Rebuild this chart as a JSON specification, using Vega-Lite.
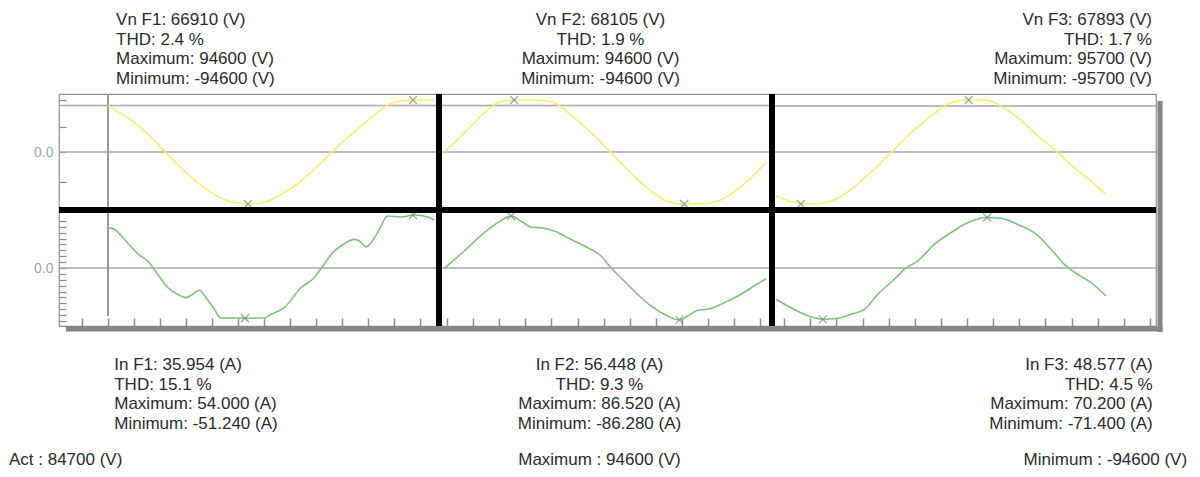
{
  "$schema": "https://vega.github.io/schema/vega-lite/v6.json",
  "background": "white",
  "autosize": {"type": "pad"},
  "padding": {"left": 8, "top": 10, "right": 6, "bottom": 6},
  "config": {
    "view": {"stroke": "#8f8f8f", "strokeWidth": 1.2},
    "font": "Liberation Sans"
  },
  "datasets": {
    "wave": [
      {"ph":"F1","q":"V","s":0,"v":84700},{"ph":"F1","q":"V","s":3.8,"v":73500},{"ph":"F1","q":"V","s":7.6,"v":62400},{"ph":"F1","q":"V","s":10.8,"v":51000},{"ph":"F1","q":"V","s":14.0,"v":38200},{"ph":"F1","q":"V","s":17.9,"v":20500},{"ph":"F1","q":"V","s":21.7,"v":1800},{"ph":"F1","q":"V","s":25.5,"v":-16700},{"ph":"F1","q":"V","s":29.3,"v":-34600},{"ph":"F1","q":"V","s":33.1,"v":-50200},{"ph":"F1","q":"V","s":37.0,"v":-64900},{"ph":"F1","q":"V","s":43.5,"v":-84000},{"ph":"F1","q":"V","s":48.6,"v":-92000},{"ph":"F1","q":"V","s":54.0,"v":-94600},{"ph":"F1","q":"V","s":60.1,"v":-91500},{"ph":"F1","q":"V","s":64.0,"v":-84000},{"ph":"F1","q":"V","s":67.8,"v":-74000},{"ph":"F1","q":"V","s":71.0,"v":-64000},{"ph":"F1","q":"V","s":74.2,"v":-52800},{"ph":"F1","q":"V","s":77.5,"v":-39200},{"ph":"F1","q":"V","s":80.7,"v":-25500},{"ph":"F1","q":"V","s":85.8,"v":-1300},{"ph":"F1","q":"V","s":89.0,"v":12700},{"ph":"F1","q":"V","s":92.2,"v":26000},{"ph":"F1","q":"V","s":96.0,"v":41500},{"ph":"F1","q":"V","s":99.9,"v":57500},{"ph":"F1","q":"V","s":103.8,"v":72500},{"ph":"F1","q":"V","s":107.6,"v":85500},{"ph":"F1","q":"V","s":112.7,"v":92800},{"ph":"F1","q":"V","s":117.8,"v":94600},{"ph":"F1","q":"V","s":121.6,"v":94600},{"ph":"F1","q":"V","s":125.5,"v":93800},
      {"ph":"F2","q":"V","s":0,"v":0},{"ph":"F2","q":"V","s":5.3,"v":23100},{"ph":"F2","q":"V","s":10.4,"v":47300},{"ph":"F2","q":"V","s":15.5,"v":71500},{"ph":"F2","q":"V","s":20.7,"v":89700},{"ph":"F2","q":"V","s":24.0,"v":93800},{"ph":"F2","q":"V","s":27.0,"v":94600},{"ph":"F2","q":"V","s":37.3,"v":94200},{"ph":"F2","q":"V","s":42.4,"v":89700},{"ph":"F2","q":"V","s":45.5,"v":80500},{"ph":"F2","q":"V","s":48.8,"v":67500},{"ph":"F2","q":"V","s":52.6,"v":52000},{"ph":"F2","q":"V","s":56.5,"v":35500},{"ph":"F2","q":"V","s":60.4,"v":17500},{"ph":"F2","q":"V","s":64.2,"v":-1300},{"ph":"F2","q":"V","s":68.0,"v":-19500},{"ph":"F2","q":"V","s":71.9,"v":-37700},{"ph":"F2","q":"V","s":75.7,"v":-55500},{"ph":"F2","q":"V","s":79.6,"v":-70900},{"ph":"F2","q":"V","s":83.5,"v":-84000},{"ph":"F2","q":"V","s":87.3,"v":-92200},{"ph":"F2","q":"V","s":92.4,"v":-94600},{"ph":"F2","q":"V","s":97.5,"v":-94400},{"ph":"F2","q":"V","s":102.7,"v":-93000},{"ph":"F2","q":"V","s":106.5,"v":-87000},{"ph":"F2","q":"V","s":110.4,"v":-77000},{"ph":"F2","q":"V","s":114.2,"v":-63000},{"ph":"F2","q":"V","s":118.1,"v":-46700},{"ph":"F2","q":"V","s":121.0,"v":-33000},{"ph":"F2","q":"V","s":123.8,"v":-19500},
      {"ph":"F3","q":"V","s":0,"v":-81000},{"ph":"F3","q":"V","s":4.5,"v":-89200},{"ph":"F3","q":"V","s":9.6,"v":-94800},{"ph":"F3","q":"V","s":14.1,"v":-95700},{"ph":"F3","q":"V","s":18.6,"v":-93800},{"ph":"F3","q":"V","s":22.5,"v":-87500},{"ph":"F3","q":"V","s":26.3,"v":-77800},{"ph":"F3","q":"V","s":29.5,"v":-66500},{"ph":"F3","q":"V","s":32.7,"v":-53400},{"ph":"F3","q":"V","s":35.9,"v":-39500},{"ph":"F3","q":"V","s":39.1,"v":-25800},{"ph":"F3","q":"V","s":41.6,"v":-13000},{"ph":"F3","q":"V","s":44.2,"v":-1300},{"ph":"F3","q":"V","s":46.8,"v":11200},{"ph":"F3","q":"V","s":49.3,"v":23400},{"ph":"F3","q":"V","s":52.5,"v":37800},{"ph":"F3","q":"V","s":55.8,"v":51000},{"ph":"F3","q":"V","s":59.0,"v":64000},{"ph":"F3","q":"V","s":62.2,"v":75400},{"ph":"F3","q":"V","s":64.8,"v":84000},{"ph":"F3","q":"V","s":67.3,"v":90700},{"ph":"F3","q":"V","s":70.5,"v":94300},{"ph":"F3","q":"V","s":73.7,"v":95700},{"ph":"F3","q":"V","s":77.5,"v":95700},{"ph":"F3","q":"V","s":81.4,"v":95100},{"ph":"F3","q":"V","s":84.0,"v":91000},{"ph":"F3","q":"V","s":86.5,"v":84600},{"ph":"F3","q":"V","s":89.7,"v":75000},{"ph":"F3","q":"V","s":93.0,"v":63100},{"ph":"F3","q":"V","s":96.1,"v":50000},{"ph":"F3","q":"V","s":99.3,"v":35500},{"ph":"F3","q":"V","s":102.6,"v":22000},{"ph":"F3","q":"V","s":105.8,"v":10000},{"ph":"F3","q":"V","s":108.3,"v":-1300},{"ph":"F3","q":"V","s":111.5,"v":-15500},{"ph":"F3","q":"V","s":114.7,"v":-28900},{"ph":"F3","q":"V","s":118.0,"v":-41500},{"ph":"F3","q":"V","s":121.2,"v":-53400},{"ph":"F3","q":"V","s":124.0,"v":-65500},{"ph":"F3","q":"V","s":126.9,"v":-77800},
      {"ph":"F1","q":"I","s":0,"v":41.1},{"ph":"F1","q":"I","s":2.4,"v":39.4},{"ph":"F1","q":"I","s":6.9,"v":27.5},{"ph":"F1","q":"I","s":11.4,"v":14.6},{"ph":"F1","q":"I","s":15.9,"v":5.4},{"ph":"F1","q":"I","s":19.1,"v":-6.4},{"ph":"F1","q":"I","s":23.0,"v":-20.0},{"ph":"F1","q":"I","s":26.8,"v":-26.8},{"ph":"F1","q":"I","s":30.0,"v":-30.2},{"ph":"F1","q":"I","s":32.6,"v":-26.8},{"ph":"F1","q":"I","s":35.1,"v":-22.7},{"ph":"F1","q":"I","s":37.7,"v":-30.2},{"ph":"F1","q":"I","s":40.9,"v":-42.1},{"ph":"F1","q":"I","s":43.5,"v":-51.2},{"ph":"F1","q":"I","s":48.6,"v":-51.0},{"ph":"F1","q":"I","s":53.1,"v":-51.2},{"ph":"F1","q":"I","s":60.1,"v":-51.0},{"ph":"F1","q":"I","s":62.7,"v":-47.2},{"ph":"F1","q":"I","s":67.8,"v":-40.4},{"ph":"F1","q":"I","s":74.2,"v":-20.1},{"ph":"F1","q":"I","s":79.3,"v":-9.9},{"ph":"F1","q":"I","s":81.9,"v":-0.7},{"ph":"F1","q":"I","s":87.0,"v":17.3},{"ph":"F1","q":"I","s":89.6,"v":22.4},{"ph":"F1","q":"I","s":94.8,"v":29.2},{"ph":"F1","q":"I","s":96.7,"v":27.5},{"ph":"F1","q":"I","s":99.2,"v":21.4},{"ph":"F1","q":"I","s":103.7,"v":36.0},{"ph":"F1","q":"I","s":107.6,"v":53.0},{"ph":"F1","q":"I","s":112.7,"v":52.0},{"ph":"F1","q":"I","s":117.8,"v":54.0},{"ph":"F1","q":"I","s":123.0,"v":52.0},{"ph":"F1","q":"I","s":125.5,"v":48.6},
      {"ph":"F2","q":"I","s":0,"v":-1.0},{"ph":"F2","q":"I","s":7.8,"v":28.3},{"ph":"F2","q":"I","s":15.5,"v":58.7},{"ph":"F2","q":"I","s":20.7,"v":75.4},{"ph":"F2","q":"I","s":25.8,"v":86.5},{"ph":"F2","q":"I","s":29.6,"v":78.2},{"ph":"F2","q":"I","s":33.5,"v":68.2},{"ph":"F2","q":"I","s":37.3,"v":67.1},{"ph":"F2","q":"I","s":42.4,"v":61.6},{"ph":"F2","q":"I","s":48.8,"v":47.8},{"ph":"F2","q":"I","s":55.3,"v":33.8},{"ph":"F2","q":"I","s":60.4,"v":20.0},{"ph":"F2","q":"I","s":64.2,"v":0.5},{"ph":"F2","q":"I","s":69.3,"v":-21.6},{"ph":"F2","q":"I","s":74.5,"v":-43.8},{"ph":"F2","q":"I","s":79.6,"v":-63.2},{"ph":"F2","q":"I","s":84.7,"v":-77.0},{"ph":"F2","q":"I","s":90.5,"v":-86.3},{"ph":"F2","q":"I","s":93.7,"v":-79.9},{"ph":"F2","q":"I","s":97.6,"v":-70.4},{"ph":"F2","q":"I","s":101.4,"v":-68.7},{"ph":"F2","q":"I","s":106.5,"v":-60.4},{"ph":"F2","q":"I","s":113.0,"v":-46.6},{"ph":"F2","q":"I","s":119.3,"v":-30.0},{"ph":"F2","q":"I","s":123.8,"v":-17.8},
      {"ph":"F3","q":"I","s":0,"v":-43.5},{"ph":"F3","q":"I","s":4.5,"v":-52.8},{"ph":"F3","q":"I","s":9.6,"v":-62.1},{"ph":"F3","q":"I","s":14.7,"v":-69.1},{"ph":"F3","q":"I","s":18.0,"v":-71.4},{"ph":"F3","q":"I","s":23.7,"v":-69.9},{"ph":"F3","q":"I","s":28.8,"v":-64.4},{"ph":"F3","q":"I","s":34.0,"v":-57.4},{"ph":"F3","q":"I","s":39.1,"v":-36.6},{"ph":"F3","q":"I","s":45.5,"v":-15.7},{"ph":"F3","q":"I","s":49.3,"v":-1.8},{"ph":"F3","q":"I","s":54.5,"v":9.7},{"ph":"F3","q":"I","s":60.9,"v":32.9},{"ph":"F3","q":"I","s":67.3,"v":49.1},{"ph":"F3","q":"I","s":73.7,"v":63.0},{"ph":"F3","q":"I","s":81.2,"v":70.2},{"ph":"F3","q":"I","s":86.5,"v":69.1},{"ph":"F3","q":"I","s":94.2,"v":58.4},{"ph":"F3","q":"I","s":99.3,"v":49.1},{"ph":"F3","q":"I","s":105.8,"v":26.0},{"ph":"F3","q":"I","s":110.9,"v":5.1},{"ph":"F3","q":"I","s":116.0,"v":-8.8},{"ph":"F3","q":"I","s":121.2,"v":-20.4},{"ph":"F3","q":"I","s":126.9,"v":-38.9}
    ],
    "peaks": [
      {"ph":"F1","q":"V","s":117.3,"v":94600},{"ph":"F1","q":"V","s":53.8,"v":-94600},
      {"ph":"F1","q":"I","s":117.3,"v":54.0},{"ph":"F1","q":"I","s":52.7,"v":-51.24},
      {"ph":"F2","q":"V","s":27.0,"v":94600},{"ph":"F2","q":"V","s":92.4,"v":-94600},
      {"ph":"F2","q":"I","s":25.8,"v":86.52},{"ph":"F2","q":"I","s":90.5,"v":-86.28},
      {"ph":"F3","q":"V","s":9.6,"v":-95700},{"ph":"F3","q":"V","s":74.1,"v":95700},
      {"ph":"F3","q":"I","s":18.0,"v":-71.4},{"ph":"F3","q":"I","s":81.2,"v":70.2}
    ]
  },
  "columns": 3,
  "spacing": 0,
  "bounds": "flush",
  "concat": [
    {
      "width": 380, "height": 116,
      "layer": [
        {"data": {"values": [{}]}, "mark": {"type": "rule", "color": "#a9a9a9", "strokeWidth": 1.5}, "encoding": {"y": {"datum": 0, "type": "quantitative", "scale": {"domain": [-105500, 105500], "nice": false, "zero": false}, "axis": {"title": null, "domain": false, "grid": false, "values": [94600, 45000, 0, -55000], "ticks": true, "tickSize": -7, "tickColor": "#8a8a8a", "tickWidth": 1.2, "labelExpr": "datum.value == 0 ? '0.0' : ''", "labelColor": "#a0a6ae", "labelFontSize": 14, "labelPadding": 13, "labelOverlap": false, "labelBaseline": "middle"}}}},
        {"data": {"values": [{}]}, "mark": {"type": "rule", "color": "#a9a9a9", "strokeWidth": 1.5}, "encoding": {"y": {"datum": 84700, "type": "quantitative", "scale": {"domain": [-105500, 105500], "nice": false, "zero": false}, "axis": {"title": null, "domain": false, "grid": false, "values": [94600, 45000, 0, -55000], "ticks": true, "tickSize": -7, "tickColor": "#8a8a8a", "tickWidth": 1.2, "labelExpr": "datum.value == 0 ? '0.0' : ''", "labelColor": "#a0a6ae", "labelFontSize": 14, "labelPadding": 13, "labelOverlap": false, "labelBaseline": "middle"}}}},
        {"data": {"values": [{}]}, "mark": {"type": "rule", "color": "#9a9a9a", "strokeWidth": 2}, "encoding": {"x": {"datum": 0, "type": "quantitative", "axis": null, "scale": {"domain": [-18.846, 127.31], "nice": false, "zero": false}}}},
        {"data": {"name": "wave"}, "transform": [{"filter": "datum.ph == 'F1' && datum.q == 'V'"}], "mark": {"type": "line", "color": "#f3ef73", "strokeWidth": 1.6, "interpolate": "monotone"},
         "encoding": {"x": {"field": "s", "type": "quantitative", "axis": null, "scale": {"domain": [-18.846, 127.31], "nice": false, "zero": false}},
                      "y": {"field": "v", "type": "quantitative", "scale": {"domain": [-105500, 105500], "nice": false, "zero": false}, "axis": {"title": null, "domain": false, "grid": false, "values": [94600, 45000, 0, -55000], "ticks": true, "tickSize": -7, "tickColor": "#8a8a8a", "tickWidth": 1.2, "labelExpr": "datum.value == 0 ? '0.0' : ''", "labelColor": "#a0a6ae", "labelFontSize": 14, "labelPadding": 13, "labelOverlap": false, "labelBaseline": "middle"}}}},
        {"data": {"name": "peaks"}, "transform": [{"filter": "datum.ph == 'F1' && datum.q == 'V'"}], "mark": {"type": "point", "shape": "M-1,-1L1,1M1,-1L-1,1", "size": 64, "filled": false, "color": "#7d7d7d", "strokeWidth": 1.2},
         "encoding": {"x": {"field": "s", "type": "quantitative", "axis": null, "scale": {"domain": [-18.846, 127.31], "nice": false, "zero": false}}, "y": {"field": "v", "type": "quantitative", "scale": {"domain": [-105500, 105500], "nice": false, "zero": false}, "axis": {"title": null, "domain": false, "grid": false, "values": [94600, 45000, 0, -55000], "ticks": true, "tickSize": -7, "tickColor": "#8a8a8a", "tickWidth": 1.2, "labelExpr": "datum.value == 0 ? '0.0' : ''", "labelColor": "#a0a6ae", "labelFontSize": 14, "labelPadding": 13, "labelOverlap": false, "labelBaseline": "middle"}}}},
        {"data": {"values": [{}]}, "mark": {"type": "rule", "color": "black", "strokeWidth": 6}, "encoding": {"y": {"datum": -105500, "type": "quantitative", "scale": {"domain": [-105500, 105500], "nice": false, "zero": false}, "axis": {"title": null, "domain": false, "grid": false, "values": [94600, 45000, 0, -55000], "ticks": true, "tickSize": -7, "tickColor": "#8a8a8a", "tickWidth": 1.2, "labelExpr": "datum.value == 0 ? '0.0' : ''", "labelColor": "#a0a6ae", "labelFontSize": 14, "labelPadding": 13, "labelOverlap": false, "labelBaseline": "middle"}}}},
        {"data": {"values": [{}]}, "mark": {"type": "rule", "color": "black", "strokeWidth": 6}, "encoding": {"x": {"datum": 127.31, "type": "quantitative", "axis": null, "scale": {"domain": [-18.846, 127.31], "nice": false, "zero": false}}}},
        {"data": {"values": [{"t": "Vn F1: 66910 (V)\nTHD: 2.4 %\nMaximum: 94600 (V)\nMinimum: -94600 (V)"}]}, "mark": {"type": "text", "lineBreak": "\n", "align": "left", "baseline": "alphabetic", "fontSize": 17, "lineHeight": 19.5, "color": "#2b2b2b", "font": "Liberation Sans"},
         "encoding": {"text": {"field": "t", "type": "nominal"}, "x": {"datum": 3.1, "type": "quantitative", "axis": null, "scale": {"domain": [-18.846, 127.31], "nice": false, "zero": false}}, "y": {"datum": 231000, "type": "quantitative", "scale": {"domain": [-105500, 105500], "nice": false, "zero": false}, "axis": {"title": null, "domain": false, "grid": false, "values": [94600, 45000, 0, -55000], "ticks": true, "tickSize": -7, "tickColor": "#8a8a8a", "tickWidth": 1.2, "labelExpr": "datum.value == 0 ? '0.0' : ''", "labelColor": "#a0a6ae", "labelFontSize": 14, "labelPadding": 13, "labelOverlap": false, "labelBaseline": "middle"}}}}
      ]
    },
    {
      "width": 333, "height": 116,
      "layer": [
        {"data": {"values": [{}]}, "mark": {"type": "rule", "color": "#a9a9a9", "strokeWidth": 1.5}, "encoding": {"y": {"datum": 0, "type": "quantitative", "axis": null, "scale": {"domain": [-105500, 105500], "nice": false, "zero": false}}}},
        {"data": {"values": [{}]}, "mark": {"type": "rule", "color": "#a9a9a9", "strokeWidth": 1.5}, "encoding": {"y": {"datum": 84700, "type": "quantitative", "axis": null, "scale": {"domain": [-105500, 105500], "nice": false, "zero": false}}}},
        {"data": {"name": "wave"}, "transform": [{"filter": "datum.ph == 'F2' && datum.q == 'V'"}], "mark": {"type": "line", "color": "#f3ef73", "strokeWidth": 1.6, "interpolate": "monotone"},
         "encoding": {"x": {"field": "s", "type": "quantitative", "axis": null, "scale": {"domain": [-1.923, 126.154], "nice": false, "zero": false}},
                      "y": {"field": "v", "type": "quantitative", "axis": null, "scale": {"domain": [-105500, 105500], "nice": false, "zero": false}}}},
        {"data": {"name": "peaks"}, "transform": [{"filter": "datum.ph == 'F2' && datum.q == 'V'"}], "mark": {"type": "point", "shape": "M-1,-1L1,1M1,-1L-1,1", "size": 64, "filled": false, "color": "#7d7d7d", "strokeWidth": 1.2},
         "encoding": {"x": {"field": "s", "type": "quantitative", "axis": null, "scale": {"domain": [-1.923, 126.154], "nice": false, "zero": false}}, "y": {"field": "v", "type": "quantitative", "axis": null, "scale": {"domain": [-105500, 105500], "nice": false, "zero": false}}}},
        {"data": {"values": [{}]}, "mark": {"type": "rule", "color": "black", "strokeWidth": 6}, "encoding": {"y": {"datum": -105500, "type": "quantitative", "axis": null, "scale": {"domain": [-105500, 105500], "nice": false, "zero": false}}}},
        {"data": {"values": [{}]}, "mark": {"type": "rule", "color": "black", "strokeWidth": 6}, "encoding": {"x": {"datum": -1.923, "type": "quantitative", "axis": null, "scale": {"domain": [-1.923, 126.154], "nice": false, "zero": false}}}},
        {"data": {"values": [{}]}, "mark": {"type": "rule", "color": "black", "strokeWidth": 6}, "encoding": {"x": {"datum": 126.154, "type": "quantitative", "axis": null, "scale": {"domain": [-1.923, 126.154], "nice": false, "zero": false}}}},
        {"data": {"values": [{"t": "Vn F2: 68105 (V)\nTHD: 1.9 %\nMaximum: 94600 (V)\nMinimum: -94600 (V)"}]}, "mark": {"type": "text", "lineBreak": "\n", "align": "center", "baseline": "alphabetic", "fontSize": 17, "lineHeight": 19.5, "color": "#2b2b2b", "font": "Liberation Sans"},
         "encoding": {"text": {"field": "t", "type": "nominal"}, "x": {"datum": 60.2, "type": "quantitative", "axis": null, "scale": {"domain": [-1.923, 126.154], "nice": false, "zero": false}}, "y": {"datum": 231000, "type": "quantitative", "axis": null, "scale": {"domain": [-105500, 105500], "nice": false, "zero": false}}}}
      ]
    },
    {
      "width": 384, "height": 116,
      "layer": [
        {"data": {"values": [{}]}, "mark": {"type": "rule", "color": "#a9a9a9", "strokeWidth": 1.5}, "encoding": {"y": {"datum": 0, "type": "quantitative", "axis": null, "scale": {"domain": [-106700, 106700], "nice": false, "zero": false}}}},
        {"data": {"values": [{}]}, "mark": {"type": "rule", "color": "#a9a9a9", "strokeWidth": 1.5}, "encoding": {"y": {"datum": 84700, "type": "quantitative", "axis": null, "scale": {"domain": [-106700, 106700], "nice": false, "zero": false}}}},
        {"data": {"name": "wave"}, "transform": [{"filter": "datum.ph == 'F3' && datum.q == 'V'"}], "mark": {"type": "line", "color": "#f3ef73", "strokeWidth": 1.6, "interpolate": "monotone"},
         "encoding": {"x": {"field": "s", "type": "quantitative", "axis": null, "scale": {"domain": [-1.538, 146.154], "nice": false, "zero": false}},
                      "y": {"field": "v", "type": "quantitative", "axis": null, "scale": {"domain": [-106700, 106700], "nice": false, "zero": false}}}},
        {"data": {"name": "peaks"}, "transform": [{"filter": "datum.ph == 'F3' && datum.q == 'V'"}], "mark": {"type": "point", "shape": "M-1,-1L1,1M1,-1L-1,1", "size": 64, "filled": false, "color": "#7d7d7d", "strokeWidth": 1.2},
         "encoding": {"x": {"field": "s", "type": "quantitative", "axis": null, "scale": {"domain": [-1.538, 146.154], "nice": false, "zero": false}}, "y": {"field": "v", "type": "quantitative", "axis": null, "scale": {"domain": [-106700, 106700], "nice": false, "zero": false}}}},
        {"data": {"values": [{}]}, "mark": {"type": "rule", "color": "black", "strokeWidth": 6}, "encoding": {"y": {"datum": -106700, "type": "quantitative", "axis": null, "scale": {"domain": [-106700, 106700], "nice": false, "zero": false}}}},
        {"data": {"values": [{}]}, "mark": {"type": "rule", "color": "black", "strokeWidth": 6}, "encoding": {"x": {"datum": -1.538, "type": "quantitative", "axis": null, "scale": {"domain": [-1.538, 146.154], "nice": false, "zero": false}}}},
        {"data": {"values": [{}]}, "mark": {"type": "rule", "color": "#858585", "strokeWidth": 5}, "encoding": {"x": {"datum": 147.7, "type": "quantitative", "axis": null, "scale": {"domain": [-1.538, 146.154], "nice": false, "zero": false}}, "y": {"datum": 93800, "type": "quantitative", "axis": null, "scale": {"domain": [-106700, 106700], "nice": false, "zero": false}}, "y2": {"datum": -106700}}},
        {"data": {"values": [{"t": "Vn F3: 67893 (V)\nTHD: 1.7 %\nMaximum: 95700 (V)\nMinimum: -95700 (V)"}]}, "mark": {"type": "text", "lineBreak": "\n", "align": "right", "baseline": "alphabetic", "fontSize": 17, "lineHeight": 19.5, "color": "#2b2b2b", "font": "Liberation Sans"},
         "encoding": {"text": {"field": "t", "type": "nominal"}, "x": {"datum": 144.6, "type": "quantitative", "axis": null, "scale": {"domain": [-1.538, 146.154], "nice": false, "zero": false}}, "y": {"datum": 233600, "type": "quantitative", "axis": null, "scale": {"domain": [-106700, 106700], "nice": false, "zero": false}}}}
      ]
    },
    {
      "width": 380, "height": 116,
      "layer": [
        {"data": {"values": [{}]}, "mark": {"type": "rule", "color": "#a9a9a9", "strokeWidth": 1.5}, "encoding": {"y": {"datum": 0, "type": "quantitative", "scale": {"domain": [-59.1, 59.1], "nice": false, "zero": false}, "axis": {"title": null, "domain": false, "grid": false, "values": [-54, -48, -42, -36, -30, -24, -18, -12, -6, 0, 6, 12, 18, 24, 30, 36, 42, 48], "ticks": true, "tickSize": -7, "tickColor": "#8a8a8a", "tickWidth": 1.2, "labelExpr": "datum.value == 0 ? '0.0' : ''", "labelColor": "#a0a6ae", "labelFontSize": 14, "labelPadding": 13, "labelOverlap": false, "labelBaseline": "middle"}}}},
        {"data": {"values": [{}]}, "mark": {"type": "rule", "color": "#9a9a9a", "strokeWidth": 2}, "encoding": {"x": {"datum": 0, "type": "quantitative", "scale": {"domain": [-18.846, 127.31], "nice": false, "zero": false}, "axis": {"title": null, "domain": false, "grid": false, "labels": false, "values": [-10, 0, 10, 20, 30, 40, 50, 60, 70, 80, 90, 100, 110, 120], "ticks": true, "tickSize": -8, "tickColor": "#8a8a8a", "tickWidth": 1.5}}, "y": {"datum": 59.1, "type": "quantitative", "scale": {"domain": [-59.1, 59.1], "nice": false, "zero": false}, "axis": {"title": null, "domain": false, "grid": false, "values": [-54, -48, -42, -36, -30, -24, -18, -12, -6, 0, 6, 12, 18, 24, 30, 36, 42, 48], "ticks": true, "tickSize": -7, "tickColor": "#8a8a8a", "tickWidth": 1.2, "labelExpr": "datum.value == 0 ? '0.0' : ''", "labelColor": "#a0a6ae", "labelFontSize": 14, "labelPadding": 13, "labelOverlap": false, "labelBaseline": "middle"}}, "y2": {"datum": -48.9}}},
        {"data": {"name": "wave"}, "transform": [{"filter": "datum.ph == 'F1' && datum.q == 'I'"}], "mark": {"type": "line", "color": "#7fc27f", "strokeWidth": 1.6, "interpolate": "monotone"},
         "encoding": {"x": {"field": "s", "type": "quantitative", "scale": {"domain": [-18.846, 127.31], "nice": false, "zero": false}, "axis": {"title": null, "domain": false, "grid": false, "labels": false, "values": [-10, 0, 10, 20, 30, 40, 50, 60, 70, 80, 90, 100, 110, 120], "ticks": true, "tickSize": -8, "tickColor": "#8a8a8a", "tickWidth": 1.5}},
                      "y": {"field": "v", "type": "quantitative", "scale": {"domain": [-59.1, 59.1], "nice": false, "zero": false}, "axis": {"title": null, "domain": false, "grid": false, "values": [-54, -48, -42, -36, -30, -24, -18, -12, -6, 0, 6, 12, 18, 24, 30, 36, 42, 48], "ticks": true, "tickSize": -7, "tickColor": "#8a8a8a", "tickWidth": 1.2, "labelExpr": "datum.value == 0 ? '0.0' : ''", "labelColor": "#a0a6ae", "labelFontSize": 14, "labelPadding": 13, "labelOverlap": false, "labelBaseline": "middle"}}}},
        {"data": {"name": "peaks"}, "transform": [{"filter": "datum.ph == 'F1' && datum.q == 'I'"}], "mark": {"type": "point", "shape": "M-1,-1L1,1M1,-1L-1,1", "size": 64, "filled": false, "color": "#7d7d7d", "strokeWidth": 1.2},
         "encoding": {"x": {"field": "s", "type": "quantitative", "scale": {"domain": [-18.846, 127.31], "nice": false, "zero": false}, "axis": {"title": null, "domain": false, "grid": false, "labels": false, "values": [-10, 0, 10, 20, 30, 40, 50, 60, 70, 80, 90, 100, 110, 120], "ticks": true, "tickSize": -8, "tickColor": "#8a8a8a", "tickWidth": 1.5}}, "y": {"field": "v", "type": "quantitative", "scale": {"domain": [-59.1, 59.1], "nice": false, "zero": false}, "axis": {"title": null, "domain": false, "grid": false, "values": [-54, -48, -42, -36, -30, -24, -18, -12, -6, 0, 6, 12, 18, 24, 30, 36, 42, 48], "ticks": true, "tickSize": -7, "tickColor": "#8a8a8a", "tickWidth": 1.2, "labelExpr": "datum.value == 0 ? '0.0' : ''", "labelColor": "#a0a6ae", "labelFontSize": 14, "labelPadding": 13, "labelOverlap": false, "labelBaseline": "middle"}}}},
        {"data": {"values": [{}]}, "mark": {"type": "rule", "color": "black", "strokeWidth": 6}, "encoding": {"y": {"datum": 59.1, "type": "quantitative", "scale": {"domain": [-59.1, 59.1], "nice": false, "zero": false}, "axis": {"title": null, "domain": false, "grid": false, "values": [-54, -48, -42, -36, -30, -24, -18, -12, -6, 0, 6, 12, 18, 24, 30, 36, 42, 48], "ticks": true, "tickSize": -7, "tickColor": "#8a8a8a", "tickWidth": 1.2, "labelExpr": "datum.value == 0 ? '0.0' : ''", "labelColor": "#a0a6ae", "labelFontSize": 14, "labelPadding": 13, "labelOverlap": false, "labelBaseline": "middle"}}}},
        {"data": {"values": [{}]}, "mark": {"type": "rule", "color": "black", "strokeWidth": 6}, "encoding": {"x": {"datum": 127.31, "type": "quantitative", "scale": {"domain": [-18.846, 127.31], "nice": false, "zero": false}, "axis": {"title": null, "domain": false, "grid": false, "labels": false, "values": [-10, 0, 10, 20, 30, 40, 50, 60, 70, 80, 90, 100, 110, 120], "ticks": true, "tickSize": -8, "tickColor": "#8a8a8a", "tickWidth": 1.5}}}},
        {"data": {"values": [{}]}, "mark": {"type": "rule", "color": "#858585", "strokeWidth": 5}, "encoding": {"y": {"datum": -62.2, "type": "quantitative", "scale": {"domain": [-59.1, 59.1], "nice": false, "zero": false}, "axis": {"title": null, "domain": false, "grid": false, "values": [-54, -48, -42, -36, -30, -24, -18, -12, -6, 0, 6, 12, 18, 24, 30, 36, 42, 48], "ticks": true, "tickSize": -7, "tickColor": "#8a8a8a", "tickWidth": 1.2, "labelExpr": "datum.value == 0 ? '0.0' : ''", "labelColor": "#a0a6ae", "labelFontSize": 14, "labelPadding": 13, "labelOverlap": false, "labelBaseline": "middle"}}, "x": {"datum": -16.2, "type": "quantitative", "scale": {"domain": [-18.846, 127.31], "nice": false, "zero": false}, "axis": {"title": null, "domain": false, "grid": false, "labels": false, "values": [-10, 0, 10, 20, 30, 40, 50, 60, 70, 80, 90, 100, 110, 120], "ticks": true, "tickSize": -8, "tickColor": "#8a8a8a", "tickWidth": 1.5}}, "x2": {"datum": 127.31}}},
        {"data": {"values": [{"t": "In F1: 35.954 (A)\nTHD: 15.1 %\nMaximum: 54.000 (A)\nMinimum: -51.240 (A)"}]}, "mark": {"type": "text", "lineBreak": "\n", "align": "left", "baseline": "alphabetic", "fontSize": 17, "lineHeight": 19.6, "color": "#2b2b2b", "font": "Liberation Sans"},
         "encoding": {"text": {"field": "t", "type": "nominal"}, "x": {"datum": 2.4, "type": "quantitative", "scale": {"domain": [-18.846, 127.31], "nice": false, "zero": false}, "axis": {"title": null, "domain": false, "grid": false, "labels": false, "values": [-10, 0, 10, 20, 30, 40, 50, 60, 70, 80, 90, 100, 110, 120], "ticks": true, "tickSize": -8, "tickColor": "#8a8a8a", "tickWidth": 1.5}}, "y": {"datum": -103.9, "type": "quantitative", "scale": {"domain": [-59.1, 59.1], "nice": false, "zero": false}, "axis": {"title": null, "domain": false, "grid": false, "values": [-54, -48, -42, -36, -30, -24, -18, -12, -6, 0, 6, 12, 18, 24, 30, 36, 42, 48], "ticks": true, "tickSize": -7, "tickColor": "#8a8a8a", "tickWidth": 1.2, "labelExpr": "datum.value == 0 ? '0.0' : ''", "labelColor": "#a0a6ae", "labelFontSize": 14, "labelPadding": 13, "labelOverlap": false, "labelBaseline": "middle"}}}},
        {"data": {"values": [{"t": "Act : 84700 (V)"}]}, "mark": {"type": "text", "align": "left", "baseline": "alphabetic", "fontSize": 17, "color": "#2b2b2b", "font": "Liberation Sans"},
         "encoding": {"text": {"field": "t", "type": "nominal"}, "x": {"datum": -38.1, "type": "quantitative", "scale": {"domain": [-18.846, 127.31], "nice": false, "zero": false}, "axis": {"title": null, "domain": false, "grid": false, "labels": false, "values": [-10, 0, 10, 20, 30, 40, 50, 60, 70, 80, 90, 100, 110, 120], "ticks": true, "tickSize": -8, "tickColor": "#8a8a8a", "tickWidth": 1.5}}, "y": {"datum": -200.7, "type": "quantitative", "scale": {"domain": [-59.1, 59.1], "nice": false, "zero": false}, "axis": {"title": null, "domain": false, "grid": false, "values": [-54, -48, -42, -36, -30, -24, -18, -12, -6, 0, 6, 12, 18, 24, 30, 36, 42, 48], "ticks": true, "tickSize": -7, "tickColor": "#8a8a8a", "tickWidth": 1.2, "labelExpr": "datum.value == 0 ? '0.0' : ''", "labelColor": "#a0a6ae", "labelFontSize": 14, "labelPadding": 13, "labelOverlap": false, "labelBaseline": "middle"}}}}
      ]
    },
    {
      "width": 333, "height": 116,
      "layer": [
        {"data": {"values": [{}]}, "mark": {"type": "rule", "color": "#a9a9a9", "strokeWidth": 1.5}, "encoding": {"y": {"datum": 0, "type": "quantitative", "axis": null, "scale": {"domain": [-96.5, 96.5], "nice": false, "zero": false}}}},
        {"data": {"name": "wave"}, "transform": [{"filter": "datum.ph == 'F2' && datum.q == 'I'"}], "mark": {"type": "line", "color": "#7fc27f", "strokeWidth": 1.6, "interpolate": "monotone"},
         "encoding": {"x": {"field": "s", "type": "quantitative", "scale": {"domain": [-1.923, 126.154], "nice": false, "zero": false}, "axis": {"title": null, "domain": false, "grid": false, "labels": false, "values": [1.2, 11.2, 21.2, 31.3, 41.3, 51.4, 61.4, 71.4, 81.5, 91.5, 101.5, 111.6, 121.6], "ticks": true, "tickSize": -8, "tickColor": "#8a8a8a", "tickWidth": 1.5}},
                      "y": {"field": "v", "type": "quantitative", "axis": null, "scale": {"domain": [-96.5, 96.5], "nice": false, "zero": false}}}},
        {"data": {"name": "peaks"}, "transform": [{"filter": "datum.ph == 'F2' && datum.q == 'I'"}], "mark": {"type": "point", "shape": "M-1,-1L1,1M1,-1L-1,1", "size": 64, "filled": false, "color": "#7d7d7d", "strokeWidth": 1.2},
         "encoding": {"x": {"field": "s", "type": "quantitative", "scale": {"domain": [-1.923, 126.154], "nice": false, "zero": false}, "axis": {"title": null, "domain": false, "grid": false, "labels": false, "values": [1.2, 11.2, 21.2, 31.3, 41.3, 51.4, 61.4, 71.4, 81.5, 91.5, 101.5, 111.6, 121.6], "ticks": true, "tickSize": -8, "tickColor": "#8a8a8a", "tickWidth": 1.5}}, "y": {"field": "v", "type": "quantitative", "axis": null, "scale": {"domain": [-96.5, 96.5], "nice": false, "zero": false}}}},
        {"data": {"values": [{}]}, "mark": {"type": "rule", "color": "black", "strokeWidth": 6}, "encoding": {"y": {"datum": 96.5, "type": "quantitative", "axis": null, "scale": {"domain": [-96.5, 96.5], "nice": false, "zero": false}}}},
        {"data": {"values": [{}]}, "mark": {"type": "rule", "color": "black", "strokeWidth": 6}, "encoding": {"x": {"datum": -1.923, "type": "quantitative", "scale": {"domain": [-1.923, 126.154], "nice": false, "zero": false}, "axis": {"title": null, "domain": false, "grid": false, "labels": false, "values": [1.2, 11.2, 21.2, 31.3, 41.3, 51.4, 61.4, 71.4, 81.5, 91.5, 101.5, 111.6, 121.6], "ticks": true, "tickSize": -8, "tickColor": "#8a8a8a", "tickWidth": 1.5}}}},
        {"data": {"values": [{}]}, "mark": {"type": "rule", "color": "black", "strokeWidth": 6}, "encoding": {"x": {"datum": 126.154, "type": "quantitative", "scale": {"domain": [-1.923, 126.154], "nice": false, "zero": false}, "axis": {"title": null, "domain": false, "grid": false, "labels": false, "values": [1.2, 11.2, 21.2, 31.3, 41.3, 51.4, 61.4, 71.4, 81.5, 91.5, 101.5, 111.6, 121.6], "ticks": true, "tickSize": -8, "tickColor": "#8a8a8a", "tickWidth": 1.5}}}},
        {"data": {"values": [{}]}, "mark": {"type": "rule", "color": "#858585", "strokeWidth": 5}, "encoding": {"y": {"datum": -101.5, "type": "quantitative", "axis": null, "scale": {"domain": [-96.5, 96.5], "nice": false, "zero": false}}}},
        {"data": {"values": [{"t": "In F2: 56.448 (A)\nTHD: 9.3 %\nMaximum: 86.520 (A)\nMinimum: -86.280 (A)"}]}, "mark": {"type": "text", "lineBreak": "\n", "align": "center", "baseline": "alphabetic", "fontSize": 17, "lineHeight": 19.6, "color": "#2b2b2b", "font": "Liberation Sans"},
         "encoding": {"text": {"field": "t", "type": "nominal"}, "x": {"datum": 59.8, "type": "quantitative", "scale": {"domain": [-1.923, 126.154], "nice": false, "zero": false}, "axis": {"title": null, "domain": false, "grid": false, "labels": false, "values": [1.2, 11.2, 21.2, 31.3, 41.3, 51.4, 61.4, 71.4, 81.5, 91.5, 101.5, 111.6, 121.6], "ticks": true, "tickSize": -8, "tickColor": "#8a8a8a", "tickWidth": 1.5}}, "y": {"datum": -169.7, "type": "quantitative", "axis": null, "scale": {"domain": [-96.5, 96.5], "nice": false, "zero": false}}}},
        {"data": {"values": [{"t": "Maximum : 94600 (V)"}]}, "mark": {"type": "text", "align": "center", "baseline": "alphabetic", "fontSize": 17, "color": "#2b2b2b", "font": "Liberation Sans"},
         "encoding": {"text": {"field": "t", "type": "nominal"}, "x": {"datum": 59.8, "type": "quantitative", "scale": {"domain": [-1.923, 126.154], "nice": false, "zero": false}, "axis": {"title": null, "domain": false, "grid": false, "labels": false, "values": [1.2, 11.2, 21.2, 31.3, 41.3, 51.4, 61.4, 71.4, 81.5, 91.5, 101.5, 111.6, 121.6], "ticks": true, "tickSize": -8, "tickColor": "#8a8a8a", "tickWidth": 1.5}}, "y": {"datum": -327.8, "type": "quantitative", "axis": null, "scale": {"domain": [-96.5, 96.5], "nice": false, "zero": false}}}}
      ]
    },
    {
      "width": 384, "height": 116,
      "layer": [
        {"data": {"values": [{}]}, "mark": {"type": "rule", "color": "#a9a9a9", "strokeWidth": 1.5}, "encoding": {"y": {"datum": 0, "type": "quantitative", "axis": null, "scale": {"domain": [-80.6, 80.6], "nice": false, "zero": false}}}},
        {"data": {"name": "wave"}, "transform": [{"filter": "datum.ph == 'F3' && datum.q == 'I'"}], "mark": {"type": "line", "color": "#7fc27f", "strokeWidth": 1.6, "interpolate": "monotone"},
         "encoding": {"x": {"field": "s", "type": "quantitative", "scale": {"domain": [-1.538, 146.154], "nice": false, "zero": false}, "axis": {"title": null, "domain": false, "grid": false, "labels": false, "values": [3.1, 13.2, 23.2, 33.3, 43.3, 53.4, 63.4, 73.5, 83.5, 93.6, 103.6, 113.7, 123.7, 133.8, 143.8], "ticks": true, "tickSize": -8, "tickColor": "#8a8a8a", "tickWidth": 1.5}},
                      "y": {"field": "v", "type": "quantitative", "axis": null, "scale": {"domain": [-80.6, 80.6], "nice": false, "zero": false}}}},
        {"data": {"name": "peaks"}, "transform": [{"filter": "datum.ph == 'F3' && datum.q == 'I'"}], "mark": {"type": "point", "shape": "M-1,-1L1,1M1,-1L-1,1", "size": 64, "filled": false, "color": "#7d7d7d", "strokeWidth": 1.2},
         "encoding": {"x": {"field": "s", "type": "quantitative", "scale": {"domain": [-1.538, 146.154], "nice": false, "zero": false}, "axis": {"title": null, "domain": false, "grid": false, "labels": false, "values": [3.1, 13.2, 23.2, 33.3, 43.3, 53.4, 63.4, 73.5, 83.5, 93.6, 103.6, 113.7, 123.7, 133.8, 143.8], "ticks": true, "tickSize": -8, "tickColor": "#8a8a8a", "tickWidth": 1.5}}, "y": {"field": "v", "type": "quantitative", "axis": null, "scale": {"domain": [-80.6, 80.6], "nice": false, "zero": false}}}},
        {"data": {"values": [{}]}, "mark": {"type": "rule", "color": "black", "strokeWidth": 6}, "encoding": {"y": {"datum": 80.6, "type": "quantitative", "axis": null, "scale": {"domain": [-80.6, 80.6], "nice": false, "zero": false}}}},
        {"data": {"values": [{}]}, "mark": {"type": "rule", "color": "black", "strokeWidth": 6}, "encoding": {"x": {"datum": -1.538, "type": "quantitative", "scale": {"domain": [-1.538, 146.154], "nice": false, "zero": false}, "axis": {"title": null, "domain": false, "grid": false, "labels": false, "values": [3.1, 13.2, 23.2, 33.3, 43.3, 53.4, 63.4, 73.5, 83.5, 93.6, 103.6, 113.7, 123.7, 133.8, 143.8], "ticks": true, "tickSize": -8, "tickColor": "#8a8a8a", "tickWidth": 1.5}}}},
        {"data": {"values": [{}]}, "mark": {"type": "rule", "color": "#858585", "strokeWidth": 5}, "encoding": {"x": {"datum": 147.7, "type": "quantitative", "scale": {"domain": [-1.538, 146.154], "nice": false, "zero": false}, "axis": {"title": null, "domain": false, "grid": false, "labels": false, "values": [3.1, 13.2, 23.2, 33.3, 43.3, 53.4, 63.4, 73.5, 83.5, 93.6, 103.6, 113.7, 123.7, 133.8, 143.8], "ticks": true, "tickSize": -8, "tickColor": "#8a8a8a", "tickWidth": 1.5}}, "y": {"datum": 80.6, "type": "quantitative", "axis": null, "scale": {"domain": [-80.6, 80.6], "nice": false, "zero": false}}, "y2": {"datum": -88.9}}},
        {"data": {"values": [{}]}, "mark": {"type": "rule", "color": "#858585", "strokeWidth": 5}, "encoding": {"y": {"datum": -84.8, "type": "quantitative", "axis": null, "scale": {"domain": [-80.6, 80.6], "nice": false, "zero": false}}, "x": {"datum": -1.538, "type": "quantitative", "scale": {"domain": [-1.538, 146.154], "nice": false, "zero": false}, "axis": {"title": null, "domain": false, "grid": false, "labels": false, "values": [3.1, 13.2, 23.2, 33.3, 43.3, 53.4, 63.4, 73.5, 83.5, 93.6, 103.6, 113.7, 123.7, 133.8, 143.8], "ticks": true, "tickSize": -8, "tickColor": "#8a8a8a", "tickWidth": 1.5}}, "x2": {"datum": 148.7}}},
        {"data": {"values": [{"t": "In F3: 48.577 (A)\nTHD: 4.5 %\nMaximum: 70.200 (A)\nMinimum: -71.400 (A)"}]}, "mark": {"type": "text", "lineBreak": "\n", "align": "right", "baseline": "alphabetic", "fontSize": 17, "lineHeight": 19.6, "color": "#2b2b2b", "font": "Liberation Sans"},
         "encoding": {"text": {"field": "t", "type": "nominal"}, "x": {"datum": 144.9, "type": "quantitative", "scale": {"domain": [-1.538, 146.154], "nice": false, "zero": false}, "axis": {"title": null, "domain": false, "grid": false, "labels": false, "values": [3.1, 13.2, 23.2, 33.3, 43.3, 53.4, 63.4, 73.5, 83.5, 93.6, 103.6, 113.7, 123.7, 133.8, 143.8], "ticks": true, "tickSize": -8, "tickColor": "#8a8a8a", "tickWidth": 1.5}}, "y": {"datum": -141.7, "type": "quantitative", "axis": null, "scale": {"domain": [-80.6, 80.6], "nice": false, "zero": false}}}},
        {"data": {"values": [{"t": "Minimum : -94600 (V)"}]}, "mark": {"type": "text", "align": "right", "baseline": "alphabetic", "fontSize": 17, "color": "#2b2b2b", "font": "Liberation Sans"},
         "encoding": {"text": {"field": "t", "type": "nominal"}, "x": {"datum": 158.1, "type": "quantitative", "scale": {"domain": [-1.538, 146.154], "nice": false, "zero": false}, "axis": {"title": null, "domain": false, "grid": false, "labels": false, "values": [3.1, 13.2, 23.2, 33.3, 43.3, 53.4, 63.4, 73.5, 83.5, 93.6, 103.6, 113.7, 123.7, 133.8, 143.8], "ticks": true, "tickSize": -8, "tickColor": "#8a8a8a", "tickWidth": 1.5}}, "y": {"datum": -273.8, "type": "quantitative", "axis": null, "scale": {"domain": [-80.6, 80.6], "nice": false, "zero": false}}}}
      ]
    }
  ]
}
